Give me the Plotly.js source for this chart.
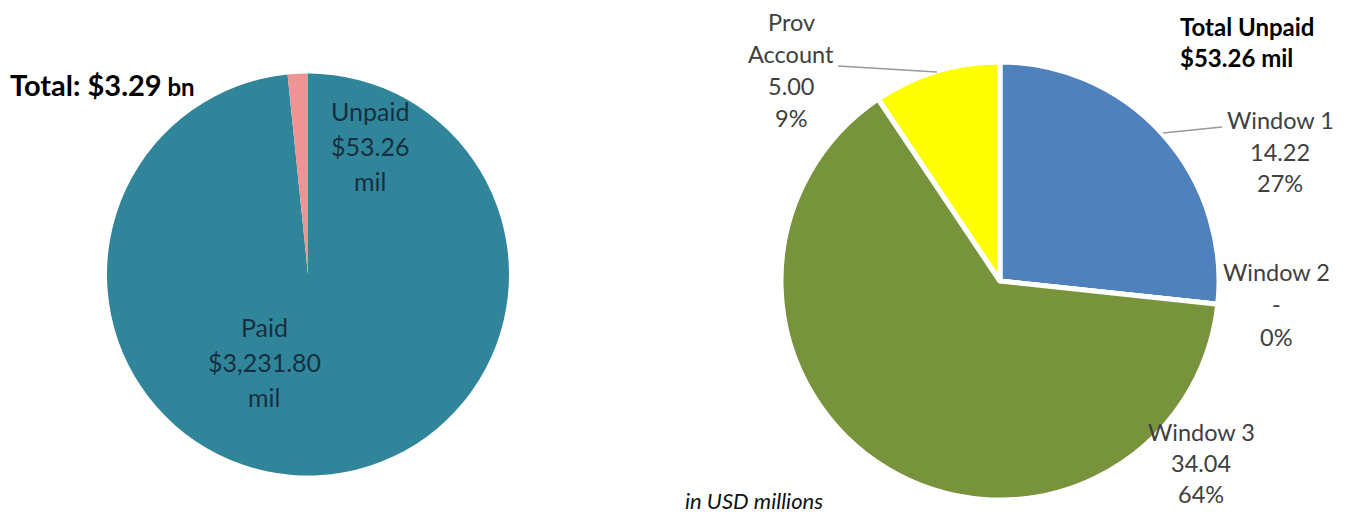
<!DOCTYPE html>
<html>
<head>
<meta charset="utf-8">
<script src="https://cdn.plot.ly/plotly-3.0.1.min.js"></script>
<style>html,body{margin:0;padding:0;background:#fff}#chart{width:1350px;height:515px}</style>
</head>
<body>
<div id="chart"></div>
<script>
// ---- data ----
const leftLabels = ['Paid', 'Unpaid'];
const leftValues = [3231.80, 53.26];
const leftColors = ['#31859B', '#EE9494'];

const rightLabels = ['Window 1', 'Window 2', 'Window 3', 'Prov Account'];
const rightValues = [14.22, 0, 34.04, 5.00];
const rightColors = ['#4F81BD', '#FFFFFF', '#77933C', '#FFFF00'];

const unit = 'in USD millions';

// ---- helpers ----
const W = 1350, H = 515;
const px = x => x / W;
const py = y => 1 - y / H;
const fmt = v => v.toLocaleString('en-US', {minimumFractionDigits: 2, maximumFractionDigits: 2});

const leftTotal = leftValues.reduce((a, b) => a + b, 0);
const rightTotal = rightValues.reduce((a, b) => a + b, 0);

const FONT = 'Lato, "Open Sans", sans-serif';
const annotations = [];
function addLines(lines, cx, cy, spacing, size, color, extra) {
  const n = lines.length;
  lines.forEach((t, i) => {
    annotations.push(Object.assign({
      text: t, xref: 'paper', yref: 'paper',
      x: px(cx), y: py(cy + (i - (n - 1) / 2) * spacing),
      xanchor: 'center', yanchor: 'middle', showarrow: false,
      font: {family: FONT, size: size, color: color}
    }, extra || {}));
  });
}

// left pie labels
addLines([leftLabels[1], '$' + fmt(leftValues[1]), 'mil'], 370, 146, 35, 25, '#17303F');
addLines([leftLabels[0], '$' + fmt(leftValues[0]), 'mil'], 264, 362, 35, 25, '#17303F');

// left title
annotations.push({
  text: '<b>Total: $' + (leftTotal / 1000).toFixed(2) + '</b><b><span style="font-size:24px"> bn</span></b>',
  xref: 'paper', yref: 'paper', x: px(8), y: py(84), xanchor: 'left', yanchor: 'middle',
  showarrow: false, font: {family: FONT, size: 29, color: '#000'}
});

// right pie labels
const pct = v => Math.round(v / rightTotal * 100) + '%';
const val = v => v === 0 ? '-' : fmt(v);
const GREY = '#404040';
addLines(['Prov', 'Account', val(rightValues[3]), pct(rightValues[3])], 791, 70, 32, 23.5, GREY);
addLines([rightLabels[0], val(rightValues[0]), pct(rightValues[0])], 1280, 152, 31.5, 23.5, GREY);
addLines([rightLabels[1], val(rightValues[1]), pct(rightValues[1])], 1276, 304, 32.5, 23.5, GREY);
addLines([rightLabels[2], val(rightValues[2]), pct(rightValues[2])], 1201, 463, 31, 23.5, GREY);

// right title
annotations.push({
  text: '<b>Total Unpaid</b><br><b>$' + fmt(rightTotal) + ' mil</b>',
  xref: 'paper', yref: 'paper', x: px(1178), y: py(42), xanchor: 'left', yanchor: 'middle',
  align: 'left', showarrow: false, font: {family: FONT, size: 24, color: '#000'}
});

// unit note
annotations.push({
  text: '<i>' + unit + '</i>', xref: 'paper', yref: 'paper', x: px(754), y: 0,
  xanchor: 'center', yanchor: 'bottom', showarrow: false, borderpad: 0,
  font: {family: FONT, size: 22, color: '#111'}
});

// leader lines
const shapes = [
  {type: 'line', xref: 'paper', yref: 'paper', x0: px(838), y0: py(66), x1: px(937), y1: py(72), line: {color: '#999', width: 1.5}},
  {type: 'line', xref: 'paper', yref: 'paper', x0: px(1163), y0: py(133), x1: px(1222), y1: py(127), line: {color: '#999', width: 1.5}}
];

// pies: left centre (308,274.5) r 201 ; right centre (1000,281) r 219
const lc = [308, 274.5], lr = 201;
const rc = [1000, 281], rr = 219;

const traces = [
  {
    type: 'pie', labels: leftLabels, values: leftValues, sort: false,
    direction: 'clockwise', rotation: 0,
    marker: {colors: leftColors, line: {width: 0}},
    textinfo: 'none', hoverinfo: 'label+value', showlegend: false,
    domain: {x: [px(lc[0] - lr), px(lc[0] + lr)], y: [py(lc[1] + lr), py(lc[1] - lr)]}
  },
  {
    type: 'pie', labels: rightLabels, values: rightValues, sort: false,
    direction: 'clockwise', rotation: 0,
    marker: {colors: rightColors, line: {color: '#FFFFFF', width: 5}},
    textinfo: 'none', hoverinfo: 'label+value+percent', showlegend: false,
    domain: {x: [px(rc[0] - rr), px(rc[0] + rr)], y: [py(rc[1] + rr), py(rc[1] - rr)]}
  }
];

Plotly.newPlot('chart', traces, {
  width: W, height: H, margin: {l: 0, r: 0, t: 0, b: 0},
  paper_bgcolor: '#fff', plot_bgcolor: '#fff',
  showlegend: false, annotations: annotations, shapes: shapes
}, {displayModeBar: false, staticPlot: true});
</script>
</body>
</html>
